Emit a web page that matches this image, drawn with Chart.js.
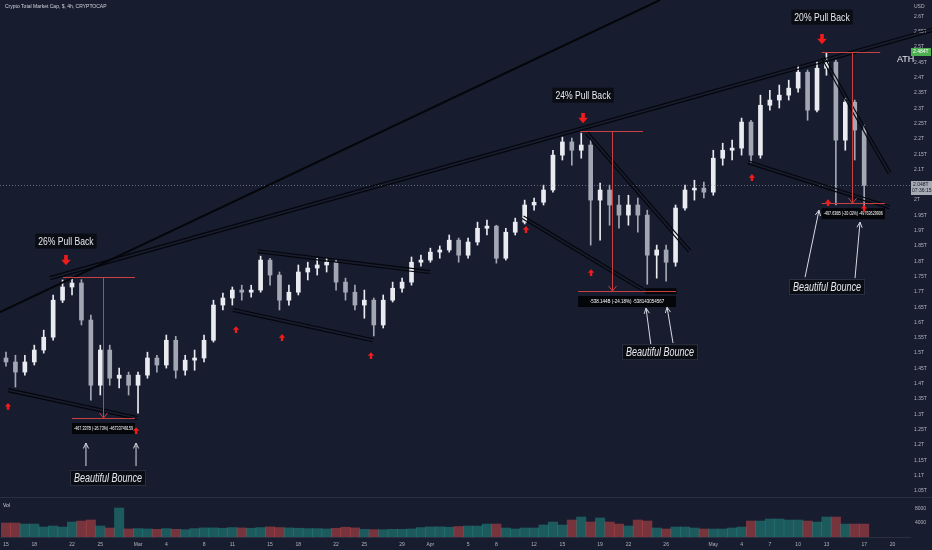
<!DOCTYPE html>
<html>
<head>
<meta charset="utf-8">
<script src="https://cdn.jsdelivr.net/npm/chart.js@4.4.1/dist/chart.umd.min.js"></script>
<style>
  html, body { margin: 0; padding: 0; background: #171c2f; }
  #wrap { width: 932px; height: 550px; }
</style>
</head>
<body>
<div id="wrap"><canvas id="chart" width="932" height="550"></canvas></div>
<script>
// day index from Feb 15 (2021)
const days = [0,1,2,3,4,5,6,7,8,9,10,11,12,13,14,15,16,17,18,19,20,21,22,23,24,25,26,27,28,29,
  30,31,32,33,34,35,36,37,38,39,40,41,42,43,44,45,46,47,48,49,50,51,52,53,54,55,56,57,58,59,
  60,61,62,63,64,65,66,67,68,69,70,71,72,73,74,75,76,77,78,79,80,81,82,83,84,85,86,87,88,89,90,91];

// total market cap, trillions USD
const opens = [1.484,1.471,1.438,1.471,1.510,1.552,1.673,1.716,1.729,1.608,
  1.395,1.510,1.418,1.428,1.395,1.428,1.484,1.461,1.542,1.444,
  1.477,1.484,1.542,1.657,1.680,1.706,1.699,1.706,1.804,1.755,
  1.673,1.699,1.765,1.778,1.788,1.797,1.732,1.699,1.657,1.673,
  1.592,1.673,1.712,1.732,1.797,1.804,1.830,1.837,1.869,1.820,
  1.863,1.908,1.915,1.810,1.895,1.928,1.984,1.993,2.033,2.147,
  2.190,2.163,2.180,2.000,2.033,1.984,1.951,1.984,1.951,1.820,
  1.837,1.797,1.974,2.033,2.039,2.026,2.137,2.163,2.170,2.255,
  2.147,2.310,2.327,2.343,2.366,2.418,2.294,2.431,2.451,2.196,
  2.320,2.229];
const highs = [1.503,1.493,1.493,1.526,1.575,1.690,1.739,1.745,1.740,1.624,
  1.526,1.526,1.451,1.438,1.438,1.503,1.493,1.559,1.555,1.493,
  1.510,1.559,1.673,1.696,1.716,1.722,1.722,1.817,1.810,1.765,
  1.722,1.788,1.797,1.810,1.810,1.805,1.745,1.722,1.706,1.680,
  1.690,1.732,1.745,1.814,1.820,1.843,1.850,1.886,1.876,1.876,
  1.928,1.935,1.918,1.908,1.941,2.000,2.007,2.049,2.163,2.206,
  2.203,2.219,2.196,2.056,2.049,2.016,2.016,2.007,1.967,1.853,
  1.853,1.984,2.049,2.065,2.059,2.163,2.186,2.196,2.268,2.261,
  2.343,2.359,2.376,2.392,2.438,2.425,2.451,2.480,2.458,2.333,
  2.327,2.245];
const lows = [1.457,1.389,1.428,1.461,1.500,1.542,1.665,1.690,1.592,1.346,
  1.363,1.395,1.386,1.363,1.304,1.418,1.438,1.451,1.418,1.428,
  1.444,1.471,1.536,1.641,1.657,1.673,1.683,1.699,1.722,1.641,
  1.657,1.690,1.739,1.755,1.765,1.706,1.673,1.641,1.614,1.556,
  1.582,1.667,1.699,1.722,1.784,1.797,1.810,1.830,1.797,1.810,
  1.853,1.886,1.794,1.804,1.886,1.922,1.967,1.984,2.026,2.131,
  2.114,2.137,1.853,1.869,1.918,1.908,1.918,1.895,1.725,1.745,
  1.735,1.784,1.967,2.000,2.007,2.016,2.114,2.131,2.147,2.124,
  2.137,2.294,2.301,2.327,2.353,2.261,2.288,2.408,1.984,2.163,
  2.131,1.977];
const closes = [1.471,1.438,1.471,1.510,1.552,1.673,1.716,1.729,1.608,1.395,
  1.510,1.418,1.428,1.395,1.428,1.484,1.461,1.542,1.444,1.477,
  1.484,1.542,1.657,1.680,1.706,1.699,1.706,1.804,1.755,1.673,
  1.699,1.765,1.778,1.788,1.797,1.732,1.699,1.657,1.673,1.592,
  1.673,1.712,1.732,1.797,1.804,1.830,1.837,1.869,1.820,1.863,
  1.908,1.915,1.810,1.895,1.928,1.984,1.993,2.033,2.147,2.190,
  2.163,2.180,2.000,2.033,1.984,1.951,1.984,1.951,1.820,1.837,
  1.797,1.974,2.033,2.039,2.026,2.137,2.163,2.170,2.255,2.147,
  2.310,2.327,2.343,2.366,2.418,2.294,2.431,2.451,2.196,2.320,
  2.229,2.048];
const volumes = [4000,4000,3700,3700,2860,3140,2860,4290,4570,4860,
  3140,2570,8290,2300,2400,2300,2200,2400,2200,2100,
  2400,2600,2600,2500,2700,2600,2500,2700,2900,2700,
  2600,2500,2400,2400,2300,2500,2800,2600,2200,2100,
  2100,2200,2200,2300,2700,2900,2900,2800,3000,3140,
  3140,3700,3700,2570,2290,2570,2570,3430,4290,3430,
  4860,5710,4290,5430,4290,3700,3140,4860,4570,2570,
  2290,2860,2860,2570,2290,2290,2290,2570,2860,4570,
  4570,5140,5140,4860,4860,4570,4290,5710,5710,3700,
  3700,3700];

const xTickDays = [0,3,7,10,14,17,21,24,28,31,35,38,42,45,49,52,56,59,63,66,70,75,78,81,84,87,91,94];
const xTickLabels = ['15','18','22','25','Mar','4','8','11','15','18','22','25','29','Apr','5','8','12','15','19','22','26','May','4','7','10','13','17','20'];
const priceTicks = [1.05,1.1,1.15,1.2,1.25,1.3,1.35,1.4,1.45,1.5,1.55,1.6,1.65,1.7,1.75,1.8,1.85,1.9,1.95,2,2.05,2.1,2.15,2.2,2.25,2.3,2.35,2.4,2.45,2.5,2.55,2.6];
const volumeTicks = [4000, 8000];

const lastPrice = 2.048;
const athPrice = 2.484;

// drawings on the chart, in (day, price) units
const trendLines = [
  { a: [-0.64, 1.634], b: [69.35, 2.654], double: false, width: 2 },
  { a: [4.67, 1.745], b: [98.2, 2.556], double: true },
  { a: [0.2, 1.379], b: [13.9, 1.288], double: true },
  { a: [26.7, 1.833], b: [44.96, 1.765], double: true },
  { a: [24.07, 1.641], b: [38.9, 1.542], double: true },
  { a: [54.8, 1.944], b: [67.77, 1.703], double: true },
  { a: [61.6, 2.219], b: [72.5, 1.833], double: true },
  { a: [78.7, 2.124], b: [93.7, 1.977], double: true },
  { a: [86.6, 2.467], b: [93.7, 2.088], double: true }
];
const measures = [
  { top: 1.748, bottom: 1.288, topFrom: 6.05, topTo: 13.68, botFrom: 7.0, botTo: 13.68, at: 10.29,
    text: '-467.337B (-26.73%) -46733749159' },
  { top: 2.225, bottom: 1.703, topFrom: 60.9, topTo: 67.55, botFrom: 60.66, botTo: 71.05, at: 64.26,
    text: '-538.144B (-24.18%) -538143054567' },
  { top: 2.484, bottom: 1.990, topFrom: 86.5, topTo: 92.7, botFrom: 86.5, botTo: 93.2, at: 89.7,
    text: '-497.636B (-20.02%) -49763629906' }
];
const pullBacks = [
  { d: 6.36, v: 1.866, text: '26% Pull Back', arrow: 1.807 },
  { d: 61.19, v: 2.343, text: '24% Pull Back', arrow: 2.271 },
  { d: 86.53, v: 2.598, text: '20% Pull Back', arrow: 2.529 }
];
const upMarks = [[0.21,1.324],[24.39,1.575],[29.27,1.549],[38.7,1.490],[13.79,1.245],
  [55.14,1.902],[62.04,1.761],[79.1,2.072],[87.17,1.990],[90.99,1.971]];
const bounces = [
  { d: 10.82, v: 1.092, arrows: [[8.48,1.131,8.48,1.206],[13.79,1.131,13.79,1.206]] },
  { d: 69.35, v: 1.503, arrows: [[68.4,1.523,67.87,1.647],[70.73,1.533,70.1,1.650]] },
  { d: 87.06, v: 1.716, arrows: [[84.73,1.748,86.21,1.967],[90.03,1.745,90.56,1.928]] }
];

const BG = '#171c2f';
const UP = '#e9ebf0', DOWN = '#a3a7b3';
const isUp = i => closes[i] >= opens[i];

// condensed text: Liberation Sans squeezed horizontally
function narrowText(c, text, x, y, size, italic, sx) {
  c.save();
  c.translate(x, y);
  c.scale(sx, 1);
  c.font = (italic ? 'italic ' : '') + size + 'px "Liberation Sans"';
  c.textAlign = 'center'; c.textBaseline = 'middle';
  c.fillText(text, 0, 0);
  const w = c.measureText(text).width * sx;
  c.restore();
  return w;
}
function narrowWidth(c, text, size, italic, sx) {
  c.save();
  c.font = (italic ? 'italic ' : '') + size + 'px "Liberation Sans"';
  const w = c.measureText(text).width * sx;
  c.restore();
  return w;
}

const drawings = {
  id: 'drawings',
  beforeDraw(chart) {
    const c = chart.ctx;
    c.save();
    c.fillStyle = BG;
    c.fillRect(0, 0, chart.width, chart.height);
    c.restore();
  },
  afterDatasetsDraw(chart) {
    const c = chart.ctx, xs = chart.scales.x, ys = chart.scales.y, area = chart.chartArea;
    const X = d => xs.getPixelForValue(d), Y = v => ys.getPixelForValue(v);
    c.save();

    // pane separator
    c.strokeStyle = '#2a2f42';
    c.lineWidth = 1;
    c.beginPath(); c.moveTo(0, 497.5); c.lineTo(chart.width, 497.5); c.stroke();

    // last price line
    c.setLineDash([1, 2]);
    c.strokeStyle = 'rgba(160,165,180,0.55)';
    const yl = Math.round(Y(lastPrice)) + 0.5;
    c.beginPath(); c.moveTo(0, yl); c.lineTo(area.right, yl); c.stroke();
    c.setLineDash([]);

    // trend lines
    c.strokeStyle = '#05060a';
    trendLines.forEach(t => {
      const x1 = X(t.a[0]), y1 = Y(t.a[1]), x2 = X(t.b[0]), y2 = Y(t.b[1]);
      if (t.double) {
        const len = Math.hypot(x2 - x1, y2 - y1), nx = -(y2 - y1) / len * 1.5, ny = (x2 - x1) / len * 1.5;
        c.lineWidth = 1.2;
        [-1, 1].forEach(s => {
          c.beginPath(); c.moveTo(x1 + s * nx, y1 + s * ny); c.lineTo(x2 + s * nx, y2 + s * ny); c.stroke();
        });
      } else {
        c.lineWidth = t.width;
        c.beginPath(); c.moveTo(x1, y1); c.lineTo(x2, y2); c.stroke();
      }
    });

    // dark bar under the 24% low
    c.fillStyle = '#05060a';
    c.fillRect(X(67.8), Y(1.712), X(71.1) - X(67.8), 6);

    // measure tools
    measures.forEach(m => {
      c.strokeStyle = '#c8403f';
      c.lineWidth = 1;
      c.beginPath();
      c.moveTo(X(m.topFrom), Math.round(Y(m.top)) + 0.5); c.lineTo(X(m.topTo), Math.round(Y(m.top)) + 0.5);
      c.moveTo(X(m.botFrom), Math.round(Y(m.bottom)) + 0.5); c.lineTo(X(m.botTo), Math.round(Y(m.bottom)) + 0.5);
      c.moveTo(Math.round(X(m.at)) + 0.5, Y(m.top)); c.lineTo(Math.round(X(m.at)) + 0.5, Y(m.bottom));
      c.stroke();
      const ax = Math.round(X(m.at)) + 0.5, ay = Y(m.bottom);
      c.beginPath(); c.moveTo(ax - 4, ay - 5); c.lineTo(ax, ay); c.lineTo(ax + 4, ay - 5); c.stroke();
      const w = X(m.botTo) - X(m.botFrom);
      c.fillStyle = '#05060a';
      c.fillRect(X(m.botFrom), ay + 5, w, 11);
      c.fillStyle = '#ffffff';
      c.font = '4.5px "Liberation Sans"';
      const tw = c.measureText(m.text).width;
      narrowText(c, m.text, X(m.botFrom) + w / 2, ay + 10.5, 4.5, false, Math.min(1, (w - 4) / tw));
    });

    // red arrows
    const upArrow = (x, y, s) => {
      c.beginPath();
      c.moveTo(x, y - s); c.lineTo(x + s * 0.8, y - s * 0.1); c.lineTo(x + s * 0.3, y - s * 0.1);
      c.lineTo(x + s * 0.3, y + s * 0.7); c.lineTo(x - s * 0.3, y + s * 0.7); c.lineTo(x - s * 0.3, y - s * 0.1);
      c.lineTo(x - s * 0.8, y - s * 0.1); c.closePath(); c.fill();
    };
    c.fillStyle = '#f01c1c';
    upMarks.forEach(p => upArrow(X(p[0]), Y(p[1]), 4));
    pullBacks.forEach(p => {
      const x = X(p.d), y = Y(p.arrow), s = 6;
      c.beginPath();
      c.moveTo(x, y + s); c.lineTo(x + s * 0.8, y + s * 0.1); c.lineTo(x + s * 0.3, y + s * 0.1);
      c.lineTo(x + s * 0.3, y - s * 0.7); c.lineTo(x - s * 0.3, y - s * 0.7); c.lineTo(x - s * 0.3, y + s * 0.1);
      c.lineTo(x - s * 0.8, y + s * 0.1); c.closePath(); c.fill();
    });

    // pull back labels
    pullBacks.forEach(p => {
      const x = X(p.d), y = Y(p.v), w = narrowWidth(c, p.text, 11, false, 0.78) + 6;
      c.fillStyle = '#0b0d14';
      c.fillRect(x - w / 2, y - 7.5, w, 15);
      c.fillStyle = '#e8e9ee';
      narrowText(c, p.text, x, y + 0.5, 11, false, 0.78);
    });

    // bounce labels + white arrows
    bounces.forEach(b => {
      c.strokeStyle = '#d8dae2';
      c.lineWidth = 1;
      b.arrows.forEach(a => {
        const x1 = X(a[0]), y1 = Y(a[1]), x2 = X(a[2]), y2 = Y(a[3]);
        const ang = Math.atan2(y2 - y1, x2 - x1);
        c.beginPath(); c.moveTo(x1, y1); c.lineTo(x2, y2);
        c.moveTo(x2 - 6 * Math.cos(ang - 0.45), y2 - 6 * Math.sin(ang - 0.45)); c.lineTo(x2, y2);
        c.lineTo(x2 - 6 * Math.cos(ang + 0.45), y2 - 6 * Math.sin(ang + 0.45));
        c.stroke();
      });
      const x = X(b.d), y = Y(b.v), w = narrowWidth(c, 'Beautiful Bounce', 12, true, 0.75) + 8;
      c.fillStyle = '#0b0d14';
      c.fillRect(x - w / 2, y - 8, w, 16);
      c.strokeStyle = '#2c3144';
      c.strokeRect(x - w / 2 + 0.5, y - 7.5, w - 1, 15);
      c.fillStyle = '#e8e9ee';
      narrowText(c, 'Beautiful Bounce', x, y + 0.5, 12, true, 0.75);
    });

    // ATH
    c.font = '9px "Liberation Sans"';
    c.fillStyle = '#e8e9ee';
    c.textAlign = 'left'; c.textBaseline = 'middle';
    c.fillText('ATH', 897, Y(2.461));

    // header texts
    c.font = '5px "Liberation Sans"';
    c.fillStyle = '#d1d4dc';
    c.fillText('Crypto Total Market Cap, $, 4h, CRYPTOCAP', 5, 7);
    c.fillText('Vol', 3, 506);
    c.restore();
  },
  afterDraw(chart) {
    const c = chart.ctx, ys = chart.scales.y, vs = chart.scales.yv, area = chart.chartArea;
    c.save();
    c.font = '5px "Liberation Sans"';
    c.textBaseline = 'middle'; c.textAlign = 'left';
    c.fillStyle = '#b2b5be';
    c.fillText('USD', area.right + 4, 7);
    // volume axis labels
    volumeTicks.forEach(v => c.fillText(String(v), area.right + 5, vs.getPixelForValue(v)));
    // axis price labels
    const ya = Math.round(ys.getPixelForValue(athPrice));
    c.fillStyle = '#4caf50';
    c.fillRect(area.right + 1, ya - 4, 20, 8);
    c.fillStyle = '#ffffff';
    c.fillText(String(athPrice) + 'T', area.right + 3, ya);
    const yl = Math.round(ys.getPixelForValue(lastPrice));
    c.fillStyle = '#a7abb6';
    c.fillRect(area.right + 1, yl - 4, 21, 14);
    c.fillStyle = '#131722';
    c.fillText(String(lastPrice) + 'T', area.right + 3, yl);
    c.fillText('07:36:15', area.right + 2, yl + 6);
    c.restore();
  }
};

const ctx = document.getElementById('chart');
new Chart(ctx, {
  type: 'bar',
  data: {
    datasets: [
      {
        label: 'body',
        data: days.map((d, i) => ({ x: d, y: [opens[i], closes[i]] })),
        backgroundColor: days.map((d, i) => isUp(i) ? UP : DOWN),
        barThickness: 4,
        minBarLength: 1,
        grouped: false,
        yAxisID: 'y',
        order: 0
      },
      {
        label: 'wick',
        data: days.map((d, i) => ({ x: d, y: [lows[i], highs[i]] })),
        backgroundColor: days.map((d, i) => isUp(i) ? UP : DOWN),
        barThickness: 1,
        grouped: false,
        yAxisID: 'y',
        order: 1
      },
      {
        label: 'Vol',
        data: days.map((d, i) => ({ x: d, y: volumes[i] })),
        backgroundColor: days.map((d, i) => isUp(i) ? 'rgba(38,166,154,0.45)' : 'rgba(239,83,80,0.45)'),
        barThickness: 9.4,
        grouped: false,
        yAxisID: 'yv',
        order: 2
      }
    ]
  },
  options: {
    responsive: false,
    animation: false,
    events: [],
    layout: { padding: 0 },
    plugins: { legend: { display: false }, tooltip: { enabled: false } },
    scales: {
      x: {
        type: 'linear',
        offset: false,
        min: -0.636,
        max: 95.86,
        afterBuildTicks: s => { s.ticks = xTickDays.map(v => ({ value: v })); },
        afterFit: s => { s.height = 13; s.paddingLeft = 0; s.paddingRight = 0; },
        grid: { display: false, drawTicks: false },
        border: { color: '#2a2f42' },
        ticks: {
          autoSkip: false, maxRotation: 0, padding: 5,
          color: '#b2b5be', font: { family: 'Liberation Sans', size: 5 },
          callback: v => xTickLabels[xTickDays.indexOf(v)]
        }
      },
      y: {
        position: 'right',
        min: 0.899,
        max: 2.654,
        afterBuildTicks: s => { s.ticks = priceTicks.map(v => ({ value: v })); },
        afterFit: s => { s.width = 22; s.paddingTop = 0; s.paddingBottom = 0; },
        grid: { display: false, drawTicks: false },
        border: { display: false },
        ticks: {
          autoSkip: false, padding: 4,
          color: '#b2b5be', font: { family: 'Liberation Sans', size: 5 },
          callback: v => (+v.toFixed(2)) + 'T'
        }
      },
      yv: {
        display: false,
        position: 'right',
        min: 0,
        max: 153430
      }
    }
  },
  plugins: [drawings]
});
</script>
</body>
</html>
